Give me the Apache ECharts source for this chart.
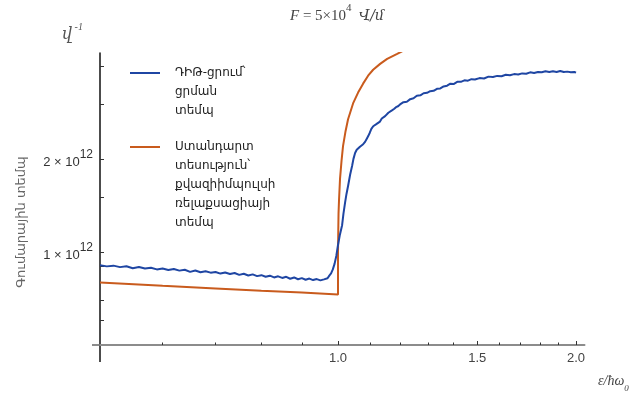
<!DOCTYPE html>
<html><head><meta charset="utf-8">
<script src="https://cdn.jsdelivr.net/npm/echarts@6/dist/echarts.min.js"></script>
<style>html,body{margin:0;padding:0;background:#fff}#c{width:642px;height:397px}</style>
</head><body><div id="c"></div>
<script>
// ---- data (rate in units of 10^12 s^-1) ----
const seriesNames = [
  'ԴԻԹ-ցրում՝\nցրման\nտեմպ',
  'Ստանդարտ\nտեսություն՝\nքվազիիմպուլսի\nռելաքսացիայի\nտեմպ'
];
const blueEps = [
  0.50,0.51,0.52,0.53,0.54,0.55,0.56,0.57,0.58,0.59,0.60,0.61,0.62,0.63,0.64,0.65,0.66,0.67,0.68,0.69,
  0.70,0.71,0.72,0.73,0.74,0.75,0.76,0.77,0.78,0.79,0.80,0.81,0.82,0.83,0.84,0.85,0.86,0.87,0.88,0.89,
  0.90,0.91,0.92,0.93,0.94,0.95,0.96,0.97,0.975,0.98,0.985,0.99,0.995,1.0,1.005,1.012,1.016,1.021,1.025,
  1.03,1.036,1.042,1.046,1.051,1.056,1.06,1.066,1.071,1.076,1.082,1.087,1.092,1.097,1.102,1.108,1.113,
  1.118,1.124,1.13,1.136,1.141,1.147,1.153,1.158,1.164,1.17,1.177,1.184,1.191,1.198,1.21,1.222,1.234,
  1.246,1.258,1.271,1.283,1.296,1.308,1.321,1.334,1.347,1.36,1.374,1.387,1.40,1.415,1.43,1.445,1.46,
  1.475,1.49,1.51,1.53,1.55,1.57,1.59,1.61,1.63,1.65,1.67,1.69,1.71,1.73,1.75,1.77,1.79,1.81,1.83,1.85,
  1.87,1.89,1.91,1.93,1.95,1.97,1.99,2.00
];
const blueRate = [
  0.905,0.898,0.903,0.893,0.899,0.886,0.894,0.884,0.889,0.878,0.884,0.874,0.881,0.870,0.876,0.862,0.871,0.860,0.866,0.857,
  0.861,0.851,0.858,0.848,0.855,0.843,0.850,0.839,0.846,0.835,0.841,0.831,0.838,0.827,0.834,0.824,0.831,0.819,0.827,0.816,
  0.823,0.813,0.820,0.811,0.817,0.809,0.815,0.822,0.838,0.852,0.878,0.915,0.970,1.053,1.13,1.22,1.33,1.45,1.54,
  1.64,1.78,1.90,2.00,2.09,2.14,2.17,2.19,2.20,2.23,2.27,2.32,2.37,2.43,2.50,2.55,2.57,
  2.59,2.61,2.64,2.70,2.73,2.75,2.78,2.82,2.85,2.87,2.90,2.94,2.96,3.00,3.05,3.06,3.12,
  3.14,3.20,3.21,3.26,3.27,3.31,3.32,3.37,3.38,3.43,3.45,3.50,3.49,3.55,3.55,3.59,3.58,
  3.62,3.61,3.65,3.64,3.69,3.68,3.71,3.70,3.74,3.73,3.76,3.75,3.78,3.77,3.81,3.79,3.82,3.81,3.84,3.82,
  3.84,3.82,3.85,3.82,3.83,3.81,3.82,3.80
];
const orangeEps = [0.5,0.6,0.7,0.8,0.9,1.0,1.0,1.0006,1.0015,1.0029,1.0059,1.0103,1.0147,1.0222,1.0297,1.0448,1.0602,1.0758,1.0916,1.1077,1.1305,1.1539,1.188,1.234,1.28];
const orangeRate = [0.796,0.777,0.762,0.749,0.739,0.728,1.0,1.134,1.33,1.467,1.726,1.97,2.20,2.458,2.686,3.022,3.277,3.502,3.715,3.884,4.058,4.211,4.37,4.6,4.8];
const xLabelTicks = [1.0, 1.5, 2.0];
const xMinorTicks = [0.6,0.7,0.8,0.9,1.1,1.2,1.3,1.4,1.6,1.7,1.8,1.9];
const yLabelTicks = [1, 2];
const yTicks = [0.6,0.7,0.8,0.9,1,1.5,2,3,4];
const yExponent = '12';

const blueData = blueEps.map((e, i) => [e, blueRate[i]]);
const orangeData = orangeEps.map((e, i) => [e, orangeRate[i]]);

const chart = echarts.init(document.getElementById('c'), null, {renderer: 'canvas'});
const SANS = 'Liberation Sans';
const ARM = 'DejaVu Sans';
const SERIF = "'Liberation Serif','DejaVu Serif'";

const xBase = {type: 'log', logBase: 10, min: 0.5, max: 2.05, position: 'bottom',
  splitLine: {show: false}, minorTick: {show: false}};

// put blank lines above so the first text line sits level with the legend line sample
const legendFmt = name => {
  const n = name.split('\n').length;
  return '\n'.repeat(n - 1) + name;
};
const legendBase = {left: 130, padding: 0, itemWidth: 30, itemHeight: 2, icon: 'rect',
  selectedMode: false, formatter: legendFmt,
  textStyle: {fontFamily: ARM, fontSize: 12, color: '#222', lineHeight: 19, padding: [0, 0, 0, 10]}};

chart.setOption({
  animation: false,
  backgroundColor: '#fff',
  grid: {left: 100, top: 53, right: 57.5, bottom: 52, outerBoundsMode: 'none', containLabel: false},
  xAxis: [
    Object.assign({}, xBase, {
      axisLine: {show: true, lineStyle: {color: '#8c8c8c', width: 2}},
      axisTick: {show: true, inside: true, length: 4, customValues: xLabelTicks, lineStyle: {color: '#333', width: 1}},
      axisLabel: {show: true, customValues: xLabelTicks, formatter: v => Number(v).toFixed(1),
        color: '#444', fontFamily: SANS, fontSize: 13, margin: 7}
    }),
    Object.assign({}, xBase, {
      axisLine: {show: false},
      axisTick: {show: true, inside: true, length: 2.5, customValues: xMinorTicks, lineStyle: {color: '#333', width: 1}},
      axisLabel: {show: false}
    })
  ],
  yAxis: [{
    type: 'log', logBase: 10, min: 0.5, max: 4.4,
    splitLine: {show: false}, minorTick: {show: false},
    axisLine: {show: true, lineStyle: {color: '#111', width: 1.5}},
    axisTick: {show: true, inside: true, length: 4, customValues: yTicks, lineStyle: {color: '#333', width: 1}},
    axisLabel: {show: true, customValues: yLabelTicks, margin: 7,
      formatter: v => '{a|' + Math.round(v) + ' × 10}{b|' + yExponent + '}',
      rich: {
        a: {fontFamily: SANS, fontSize: 13, color: '#333', padding: [7, 0, 0, 0]},
        b: {fontFamily: SANS, fontSize: 12, color: '#333', verticalAlign: 'top'}
      }}
  }],
  legend: [
    Object.assign({}, legendBase, {data: [{name: seriesNames[0]}], top: 25.5}),
    Object.assign({}, legendBase, {data: [{name: seriesNames[1]}], top: 61.5})
  ],
  series: [
    {name: seriesNames[0], type: 'line', data: blueData, symbol: 'none', showSymbol: false, smooth: false,
      clip: true, color: '#1f46a3', lineStyle: {color: '#1f46a3', width: 2}, z: 3},
    {name: seriesNames[1], type: 'line', data: orangeData, symbol: 'none', showSymbol: false, smooth: false,
      clip: true, color: '#c95b1d', lineStyle: {color: '#c95b1d', width: 2}, z: 2}
  ],
  graphic: [
    {type: 'text', left: 290, top: 3, silent: true, style: {
      text: '{i|F}{n| = 5×10}{s|4}{n|  }{ia|Վ/մ}',
      rich: {
        i: {fontFamily: SERIF, fontStyle: 'italic', fontSize: 15, fill: '#444', padding: [6, 0, 0, 0]},
        n: {fontFamily: SERIF, fontSize: 15, fill: '#444', padding: [6, 0, 0, 0]},
        ia: {fontFamily: "'DejaVu Serif','DejaVu Sans'", fontStyle: 'italic', fontSize: 14, fill: '#444', padding: [6, 0, 0, 0]},
        s: {fontFamily: SERIF, fontSize: 11, fill: '#444', verticalAlign: 'top'}
      }}},
    {type: 'text', left: 62, top: 22, silent: true, style: {
      text: '{i|վ}{s| -1}',
      rich: {
        i: {fontFamily: "'DejaVu Serif','DejaVu Sans'", fontStyle: 'italic', fontSize: 16, fill: '#555', padding: [5, 0, 0, 0]},
        s: {fontFamily: SERIF, fontStyle: 'italic', fontSize: 10, fill: '#555', verticalAlign: 'top'}
      }}},
    {type: 'text', left: 598, top: 374, silent: true, style: {
      text: '{i|ε/ħω}{s|0}',
      rich: {
        i: {fontFamily: SERIF, fontStyle: 'italic', fontSize: 14, fill: '#444', padding: [0, 0, 5, 0]},
        s: {fontFamily: SERIF, fontStyle: 'italic', fontSize: 9, fill: '#444', verticalAlign: 'bottom'}
      }}},
    {type: 'text', x: 22, y: 222, rotation: Math.PI / 2, silent: true, style: {
      text: 'Գումարային տեմպ', fontFamily: ARM, fontSize: 13, fill: '#666', align: 'center', verticalAlign: 'middle'}},
    {type: 'line', silent: true, shape: {x1: 92, y1: 345, x2: 100, y2: 345}, style: {stroke: '#8c8c8c', lineWidth: 2}},
    {type: 'line', silent: true, shape: {x1: 100, y1: 345, x2: 100, y2: 362}, style: {stroke: '#111', lineWidth: 1.5}}
  ]
});
</script>
</body></html>
